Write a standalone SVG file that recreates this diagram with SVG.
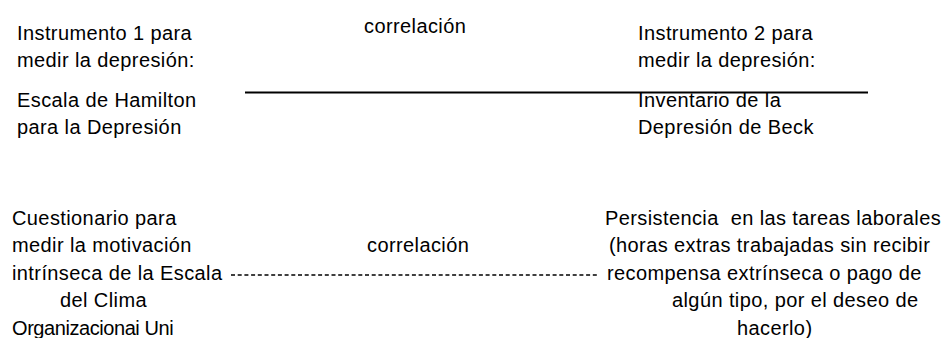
<svg xmlns="http://www.w3.org/2000/svg" width="950" height="338" viewBox="0 0 950 338">
<style>
text{font-family:"Liberation Sans",Arial,sans-serif;font-size:20px;fill:#000;letter-spacing:0.4px}
.solid{stroke:#000;stroke-width:2;fill:none}
.dash{stroke:#000;stroke-width:1.5;fill:none;stroke-dasharray:4 2.7}
</style>
<rect width="950" height="338" fill="#fff"/>
<g id="connectors">
<line class="solid" x1="245" y1="92.5" x2="868" y2="92.5"/>
<text x="364" y="33">correlación</text>
<line class="dash" x1="231" y1="275" x2="598" y2="275"/>
<text x="367" y="252">correlación</text>
</g>
<g id="node-instrumento1">
<text x="17" y="40">Instrumento 1 para</text>
<text x="17" y="67">medir la depresión:</text>
<text x="17" y="107">Escala de Hamilton</text>
<text x="17" y="134">para la Depresión</text>
</g>
<g id="node-instrumento2">
<text x="638" y="40">Instrumento 2 para</text>
<text x="638" y="67">medir la depresión:</text>
<text x="638" y="107">Inventario de la</text>
<text x="638" y="134">Depresión de Beck</text>
</g>
<g id="node-cuestionario">
<text x="12" y="225">Cuestionario para</text>
<text x="12" y="252">medir la motivación</text>
<text x="12" y="280">intrínseca de la Escala</text>
<text x="60" y="307">del Clima</text>
<text x="12" y="335" textLength="162" lengthAdjust="spacing">Organizacionai Uni</text>
</g>
<g id="node-persistencia">
<text x="605" y="225" xml:space="preserve">Persistencia  en las tareas laborales</text>
<text x="609" y="252">(horas extras trabajadas sin recibir</text>
<text x="607" y="280">recompensa extrínseca o pago de</text>
<text x="672" y="307">algún tipo, por el deseo de</text>
<text x="737" y="335">hacerlo)</text>
</g>
</svg>
